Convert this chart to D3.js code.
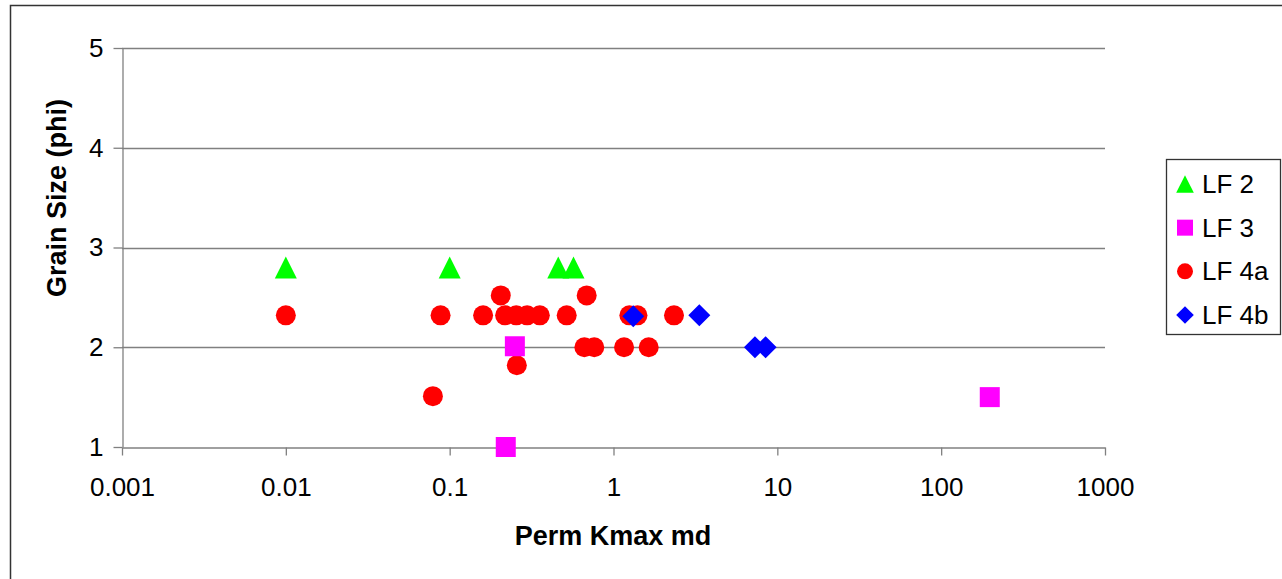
<!DOCTYPE html>
<html lang="en">
<head>
    <meta charset="UTF-8">
    <title>Grain Size vs Perm Kmax</title>
    <style>
        body { margin: 0; background: #fff; }
        svg { display: block; font-family: "Liberation Sans", Arial, sans-serif; }
        .tick text { font-size: 26px; fill: #000; }
        .axis-title { font-size: 27px; font-weight: bold; fill: #000; }
        .legend-text { font-size: 26px; fill: #000; }
    </style>
</head>
<body>
    <svg id="chart" width="1282" height="579"></svg>

    <script src="https://d3js.org/d3.v7.min.js"></script>
    <script>
        // values (x = Perm Kmax md, y = grain size phi)
        const seriesNames = ["LF 2", "LF 3", "LF 4a", "LF 4b"];

        const lf2Perm = [0.01, 0.1, 0.46, 0.57];
        const lf2Phi = [2.8, 2.8, 2.8, 2.8];

        const lf3Perm = [0.25, 0.22, 198];
        const lf3Phi = [2.01, 1.0, 1.5];

        const lf4aPerm = [0.01, 0.088, 0.16, 0.205, 0.218, 0.255, 0.297, 0.355, 0.518, 0.686,
                          1.25, 1.40, 2.34, 0.664, 0.763, 1.16, 1.64, 0.257, 0.079];
        const lf4aPhi = [2.32, 2.32, 2.32, 2.52, 2.32, 2.32, 2.32, 2.32, 2.32, 2.52,
                         2.32, 2.32, 2.32, 2.0, 2.0, 2.0, 2.0, 1.82, 1.51];

        const lf4bPerm = [1.32, 3.34, 7.3, 8.48];
        const lf4bPhi = [2.31, 2.32, 2.0, 2.0];

        const xTicks = [0.001, 0.01, 0.1, 1, 10, 100, 1000];
        const xTickLabels = ["0.001", "0.01", "0.1", "1", "10", "100", "1000"];
        const yTicks = [1, 2, 3, 4, 5];

        const series = [
            { name: seriesNames[0], perm: lf2Perm, phi: lf2Phi, shape: "triangle", color: "#00ff00" },
            { name: seriesNames[1], perm: lf3Perm, phi: lf3Phi, shape: "square", color: "#ff00ff" },
            { name: seriesNames[2], perm: lf4aPerm, phi: lf4aPhi, shape: "circle", color: "#ff0000" },
            { name: seriesNames[3], perm: lf4bPerm, phi: lf4bPhi, shape: "diamond", color: "#0000ff" }
        ];

        const plot = { left: 122, right: 1105, top: 48, bottom: 447 };

        const svg = d3.select("#chart");

        // outer chart border (runs off right and bottom edge)
        svg.append("rect")
            .attr("x", 10.5).attr("y", 5.5)
            .attr("width", 1300).attr("height", 600)
            .attr("fill", "none").attr("stroke", "#333").attr("stroke-width", 1.5);

        const x = d3.scaleLog().domain([0.001, 1000]).range([plot.left, plot.right]);
        const y = d3.scaleLinear().domain([1, 5]).range([plot.bottom, plot.top]);

        // horizontal gridlines
        svg.append("g")
            .selectAll("line")
            .data(yTicks.filter(d => d > 1))
            .enter().append("line")
            .attr("x1", plot.left).attr("x2", plot.right)
            .attr("y1", d => Math.round(y(d)) + 0.5).attr("y2", d => Math.round(y(d)) + 0.5)
            .attr("stroke", "#808080").attr("stroke-width", 1.3);

        const xAxis = svg.append("g")
            .attr("transform", `translate(0,${plot.bottom + 0.5})`)
            .call(d3.axisBottom(x).tickValues(xTicks)
                .tickFormat((d, i) => xTickLabels[i]).tickSize(8).tickSizeOuter(0));
        xAxis.select(".domain").attr("stroke", "#808080").attr("stroke-width", 1.3);
        xAxis.selectAll(".tick line").attr("stroke", "#808080").attr("stroke-width", 1.3);
        xAxis.selectAll(".tick text").attr("y", 30).attr("font-family", null).attr("font-size", null);

        const yAxis = svg.append("g")
            .attr("transform", `translate(${plot.left + 0.5},0)`)
            .call(d3.axisLeft(y).tickValues(yTicks).tickFormat(d3.format("d"))
                .tickSize(9).tickSizeOuter(0));
        yAxis.select(".domain").attr("stroke", "#808080").attr("stroke-width", 1.3);
        yAxis.selectAll(".tick line").attr("stroke", "#808080").attr("stroke-width", 1.3);
        yAxis.selectAll(".tick text").attr("x", -19).attr("font-family", null).attr("font-size", null);

        // marker shapes, s = half width
        function shapePath(shape, s) {
            if (shape === "triangle") return `M0,${-s}L${s},${s}L${-s},${s}Z`;
            if (shape === "square") return `M${-s},${-s}H${s}V${s}H${-s}Z`;
            if (shape === "diamond") return `M0,${-s}L${s},0L0,${s}L${-s},0Z`;
            return `M${s},0A${s},${s} 0 1,1 ${-s},0A${s},${s} 0 1,1 ${s},0Z`;
        }
        const markerSize = { triangle: 11, square: 10, circle: 10, diamond: 11 };

        // draw order: circles first, diamonds last
        const drawOrder = [2, 1, 0, 3];
        drawOrder.forEach(i => {
            const s = series[i];
            const pts = s.perm.map((p, j) => ({ perm: p, phi: s.phi[j] }));
            svg.append("g").selectAll("path")
                .data(pts)
                .enter().append("path")
                .attr("d", shapePath(s.shape, markerSize[s.shape]))
                .attr("transform", d => `translate(${x(d.perm)},${y(d.phi)})`)
                .attr("fill", s.color);
        });

        svg.append("text")
            .attr("class", "axis-title")
            .attr("x", 613).attr("y", 545)
            .attr("text-anchor", "middle")
            .text("Perm Kmax md");

        svg.append("text")
            .attr("class", "axis-title")
            .attr("transform", "translate(66,198) rotate(-90)")
            .attr("text-anchor", "middle")
            .text("Grain Size (phi)");

        // legend
        const legend = svg.append("g");
        legend.append("rect")
            .attr("x", 1166.5).attr("y", 159.5)
            .attr("width", 114).attr("height", 175)
            .attr("fill", "#fff").attr("stroke", "#333").attr("stroke-width", 1.3);

        const legendY = d3.scalePoint().domain(seriesNames).range([184, 315]);
        series.forEach(s => {
            legend.append("path")
                .attr("d", shapePath(s.shape, markerSize[s.shape] * 0.8))
                .attr("transform", `translate(1185,${legendY(s.name)})`)
                .attr("fill", s.color);
            legend.append("text")
                .attr("class", "legend-text")
                .attr("x", 1202).attr("y", legendY(s.name) + 9)
                .text(s.name);
        });
    </script>
</body>
</html>
